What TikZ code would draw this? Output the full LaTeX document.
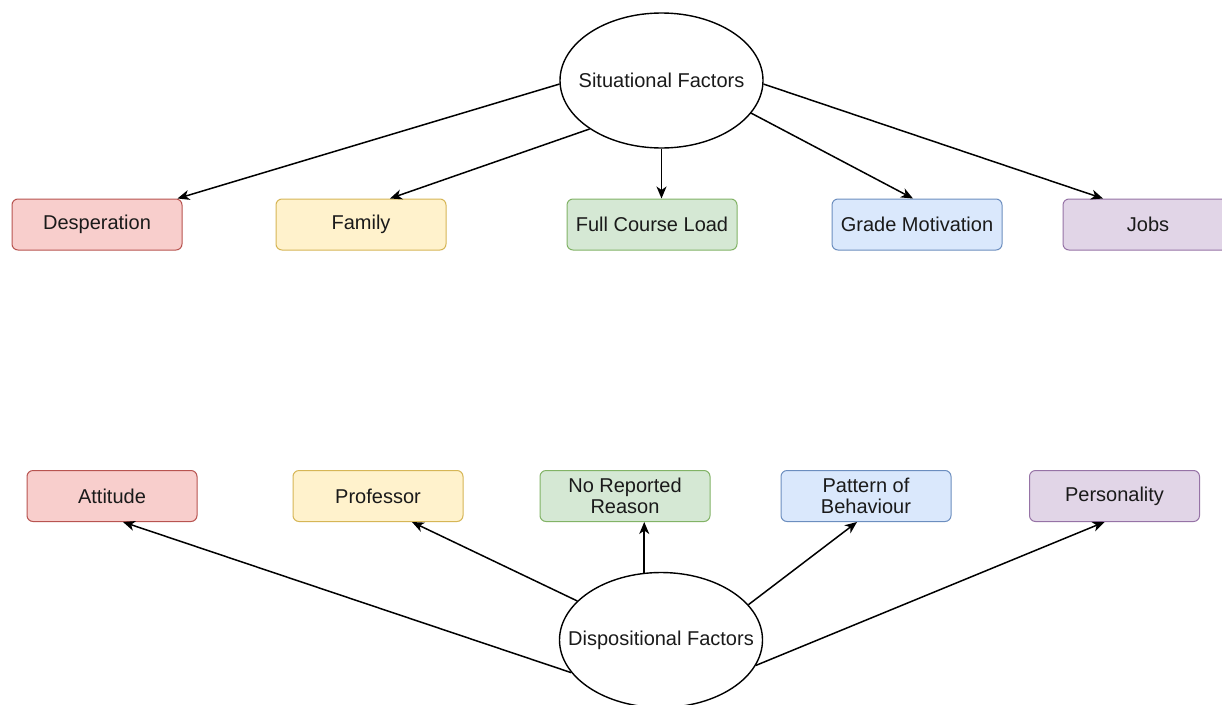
\documentclass[tikz,border=0pt]{standalone}
\usepackage{fontspec}
\setmainfont{Liberation Sans}
\usetikzlibrary{arrows.meta,shapes.geometric}
\definecolor{redf}{HTML}{F8CECC}\definecolor{redd}{HTML}{B85450}
\definecolor{yelf}{HTML}{FFF2CC}\definecolor{yeld}{HTML}{D6B656}
\definecolor{grnf}{HTML}{D5E8D4}\definecolor{grnd}{HTML}{82B366}
\definecolor{bluf}{HTML}{DAE8FC}\definecolor{blud}{HTML}{6C8EBF}
\definecolor{purf}{HTML}{E1D5E7}\definecolor{purd}{HTML}{9673A6}
\definecolor{txt}{HTML}{1A1A1A}
\tikzset{
  box/.style={rectangle, rounded corners=6pt, minimum width=170pt, minimum height=51pt,
    inner sep=0pt, line width=1pt, align=center, font=\fontsize{20}{21}\selectfont, text=txt},
  factor/.style={ellipse, draw=black, line width=1.4pt, minimum width=203pt, minimum height=135pt,
    inner sep=0pt, font=\fontsize{20}{21}\selectfont, text=txt},
  arr/.style={line width=1.5pt, -{Stealth[length=12pt,width=10pt,inset=3.5pt]}},
  redbox/.style={box, fill=redf, draw=redd},
  yelbox/.style={box, fill=yelf, draw=yeld},
  grnbox/.style={box, fill=grnf, draw=grnd},
  blubox/.style={box, fill=bluf, draw=blud},
  purbox/.style={box, fill=purf, draw=purd},
}
\begin{document}
\begin{tikzpicture}[x=1pt,y=-1pt]
\useasboundingbox (0,0) rectangle (1222,704);
\fill[white] (0,0) rectangle (1222,704);
% top
\node[factor] (sit) at (661.5,80.5) {\makebox[0pt]{Situational Factors}};
\node[redbox] (desp) at (97,224.5) {Desperation};
\node[yelbox] (fam) at (361,224.5) {Family};
\node[grnbox] (fcl) at (652,224.5) {Full Course Load};
\node[blubox] (gm) at (917,224.5) {Grade Motivation};
\node[purbox] (jobs) at (1148,224.5) {Jobs};
\draw[arr] (sit.182) -- ([xshift=-5pt]desp.north east);
\draw[arr] (sit.214) -- ([xshift=29pt]fam.north);
\draw[arr] (sit.south) -- (sit.south |- fcl.north);
\draw[arr] (sit.340) -- ([xshift=-4pt]gm.north);
\draw[arr] (sit.358) -- ([xshift=-45pt]jobs.north);
% bottom
\node[factor] (disp) at (661,640) {\makebox[0pt]{Dispositional Factors}};
\node[redbox] (att) at (112,496) {Attitude};
\node[yelbox] (prof) at (378,496) {Professor};
\node[grnbox] (nrr) at (625,496) {No Reported\\Reason};
\node[blubox] (pob) at (866,496) {Pattern of\\Behaviour};
\node[purbox] (pers) at (1114.5,496) {Personality};
\draw[arr] (disp.200) -- ([xshift=11pt]att.south);
\draw[arr] (disp.155) -- ([xshift=34pt]prof.south);
\draw[arr] (disp.104) -- (disp.104 |- nrr.south);
\draw[arr] (disp.22) -- ([xshift=-9pt]pob.south);
\draw[arr] (disp.345) -- ([xshift=-10pt]pers.south);
\end{tikzpicture}
\end{document}
